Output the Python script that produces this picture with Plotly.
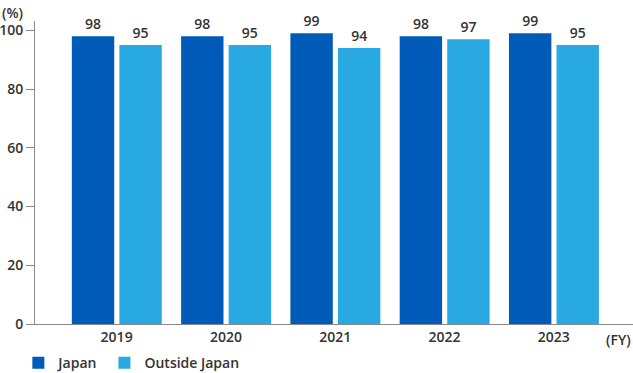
import plotly.graph_objects as go

years = ["2019", "2020", "2021", "2022", "2023"]
japan = [98, 98, 99, 98, 99]
outside_japan = [95, 95, 94, 97, 95]
y_ticks = [0, 20, 40, 60, 80, 100]

FONT = "Open Sans"
TXT = "#333333"
AX = "#8a8a8a"
F = dict(family=FONT, size=14, color=TXT, weight=600)

fig = go.Figure()
fig.add_trace(go.Bar(
    x=years, y=japan, name="Japan", marker_color="#005BB8", marker_line_width=0,
    width=0.388, offset=-0.41, text=japan, textposition="outside",
    textfont=F, cliponaxis=False, legend="legend",
))
fig.add_trace(go.Bar(
    x=years, y=outside_japan, name="Outside Japan", marker_color="#29A9E1", marker_line_width=0,
    width=0.388, offset=0.025, text=outside_japan, textposition="outside",
    textfont=F, cliponaxis=False, legend="legend2",
))

leg = dict(orientation="h", xref="container", yref="paper", y=-0.076,
           xanchor="left", yanchor="top", font=F, itemclick=False,
           bgcolor="rgba(0,0,0,0)")

fig.update_layout(
    width=633, height=373,
    margin=dict(l=35, r=0, t=21, b=49, autoexpand=False),
    paper_bgcolor="white", plot_bgcolor="white",
    barmode="group",
    font=F,
    showlegend=True,
    hovermode=False,
    legend=dict(leg, x=0.029),
    legend2=dict(leg, x=0.165),
    xaxis=dict(type="category", range=[-0.747, 4.725], showline=True, linecolor=AX, linewidth=1,
               ticks="", showgrid=False, zeroline=False, automargin=False, tickfont=F),
    yaxis=dict(range=[0, 103.2], tickvals=y_ticks, showline=True, linecolor=AX, linewidth=1,
               ticks="outside", ticklen=8, tickcolor=AX, showgrid=False, zeroline=False,
               automargin=False, tickfont=F),
    annotations=[
        dict(text="(FY)", xref="paper", yref="paper", x=1.0, y=-0.05, xanchor="right", yanchor="middle",
             showarrow=False, font=F),
        dict(text="(%)", xref="paper", yref="paper", x=-0.0585, y=1.066, xanchor="left", yanchor="top",
             showarrow=False, font=F),
    ],
)

fig.write_html("out.html", config={"displayModeBar": False},
               post_script="document.body.style.margin='0';document.body.style.overflow='hidden';")
